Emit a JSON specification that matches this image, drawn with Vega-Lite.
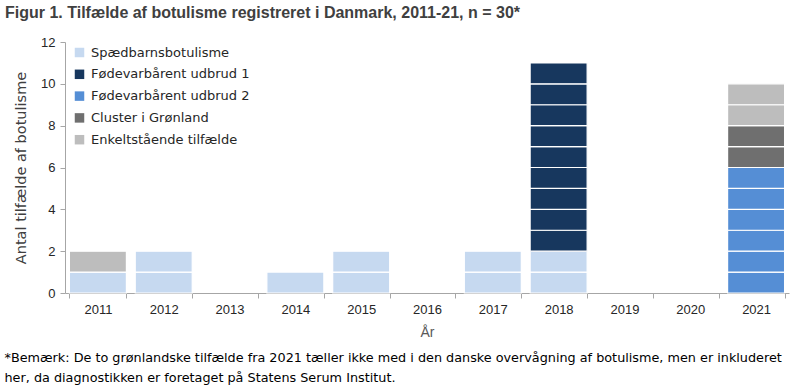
{
  "$schema": "https://vega.github.io/schema/vega-lite/v6.json",
  "width": 724,
  "height": 251,
  "autosize": {"type": "none"},
  "padding": {"left": 65, "top": 42, "right": 11, "bottom": 96},
  "title": {
    "text": "Figur 1. Tilfælde af botulisme registreret i Danmark, 2011-21, n = 30*",
    "anchor": "start",
    "frame": "group",
    "dx": -60,
    "offset": 15,
    "font": "Liberation Sans",
    "fontSize": 16,
    "fontWeight": "bold",
    "color": "#404040"
  },
  "config": {
    "view": {"stroke": null},
    "font": "Liberation Sans",
    "axis": {"labelColor": "#262626", "titleColor": "#404040", "domainColor": "#A6A6A6", "tickColor": "#A6A6A6", "labelFontSize": 13, "titleFontSize": 14, "titleFontWeight": "normal", "grid": false}
  },
  "data": {
    "values": [
      {"aar": "2011", "kategori": "Spædbarnsbotulisme", "antal": 1},
      {"aar": "2011", "kategori": "Enkeltstående tilfælde", "antal": 1},
      {"aar": "2012", "kategori": "Spædbarnsbotulisme", "antal": 1},
      {"aar": "2012", "kategori": "Spædbarnsbotulisme", "antal": 1},
      {"aar": "2014", "kategori": "Spædbarnsbotulisme", "antal": 1},
      {"aar": "2015", "kategori": "Spædbarnsbotulisme", "antal": 1},
      {"aar": "2015", "kategori": "Spædbarnsbotulisme", "antal": 1},
      {"aar": "2017", "kategori": "Spædbarnsbotulisme", "antal": 1},
      {"aar": "2017", "kategori": "Spædbarnsbotulisme", "antal": 1},
      {"aar": "2018", "kategori": "Spædbarnsbotulisme", "antal": 1},
      {"aar": "2018", "kategori": "Spædbarnsbotulisme", "antal": 1},
      {"aar": "2018", "kategori": "Fødevarbårent udbrud 1", "antal": 1},
      {"aar": "2018", "kategori": "Fødevarbårent udbrud 1", "antal": 1},
      {"aar": "2018", "kategori": "Fødevarbårent udbrud 1", "antal": 1},
      {"aar": "2018", "kategori": "Fødevarbårent udbrud 1", "antal": 1},
      {"aar": "2018", "kategori": "Fødevarbårent udbrud 1", "antal": 1},
      {"aar": "2018", "kategori": "Fødevarbårent udbrud 1", "antal": 1},
      {"aar": "2018", "kategori": "Fødevarbårent udbrud 1", "antal": 1},
      {"aar": "2018", "kategori": "Fødevarbårent udbrud 1", "antal": 1},
      {"aar": "2018", "kategori": "Fødevarbårent udbrud 1", "antal": 1},
      {"aar": "2021", "kategori": "Fødevarbårent udbrud 2", "antal": 1},
      {"aar": "2021", "kategori": "Fødevarbårent udbrud 2", "antal": 1},
      {"aar": "2021", "kategori": "Fødevarbårent udbrud 2", "antal": 1},
      {"aar": "2021", "kategori": "Fødevarbårent udbrud 2", "antal": 1},
      {"aar": "2021", "kategori": "Fødevarbårent udbrud 2", "antal": 1},
      {"aar": "2021", "kategori": "Fødevarbårent udbrud 2", "antal": 1},
      {"aar": "2021", "kategori": "Cluster i Grønland", "antal": 1},
      {"aar": "2021", "kategori": "Cluster i Grønland", "antal": 1},
      {"aar": "2021", "kategori": "Enkeltstående tilfælde", "antal": 1},
      {"aar": "2021", "kategori": "Enkeltstående tilfælde", "antal": 1}
    ]
  },
  "transform": [{"window": [{"op": "row_number", "as": "nr"}]}],
  "layer": [
    {
      "mark": {"type": "bar", "stroke": "white", "strokeWidth": 1.2},
      "encoding": {
        "x": {
          "field": "aar", "type": "ordinal",
          "scale": {"domain": ["2011","2012","2013","2014","2015","2016","2017","2018","2019","2020","2021"], "paddingInner": 0.134, "paddingOuter": 0.067},
          "axis": {"title": "År", "labelAngle": 0, "tickBand": "extent", "tickSize": 5, "labelPadding": 5, "titlePadding": 9, "titleColor": "#595959"}
        },
        "y": {
          "field": "antal", "type": "quantitative", "stack": "zero",
          "scale": {"domain": [0, 12], "nice": false},
          "axis": {"title": "Antal tilfælde af botulisme", "titleFont": "DejaVu Sans", "titleFontSize": 14.5, "values": [0,2,4,6,8,10,12], "tickSize": 5, "labelPadding": 5, "titlePadding": 12}
        },
        "order": {"field": "nr", "type": "quantitative", "sort": "ascending"},
        "color": {
          "field": "kategori", "type": "nominal",
          "scale": {
            "domain": ["Spædbarnsbotulisme", "Fødevarbårent udbrud 1", "Fødevarbårent udbrud 2", "Cluster i Grønland", "Enkeltstående tilfælde"],
            "range": ["#C6D9F0", "#17375E", "#558ED5", "#6F6F6F", "#BDBDBD"]
          },
          "legend": {
            "title": null, "orient": "none", "legendX": 8, "legendY": 4,
            "symbolType": "square", "symbolSize": 90, "symbolStrokeWidth": 0,
            "labelFont": "DejaVu Sans", "labelFontSize": 13, "labelColor": "#262626", "labelOffset": 5, "rowPadding": 7.8
          }
        }
      }
    },
    {
      "mark": {"type": "bar", "opacity": 0},
      "encoding": {
        "x": {
          "field": "aar", "type": "ordinal",
          "axis": {
            "title": ["*Bemærk: De to grønlandske tilfælde fra 2021 tæller ikke med i den danske overvågning af botulisme, men er inkluderet", "\u00a0her, da diagnostikken er foretaget på Statens Serum Institut."],
            "domain": false, "ticks": false, "labels": false,
            "titleAnchor": "start", "titleAlign": "left", "titleBaseline": "top",
            "titleX": -61, "titleY": 309, "titleFont": "DejaVu Sans", "titleFontSize": 12.8, "titleLineHeight": 20, "titleColor": "#000000"
          }
        },
        "y": {"field": "antal", "type": "quantitative"}
      }
    }
  ],
  "resolve": {"axis": {"x": "independent"}}
}
